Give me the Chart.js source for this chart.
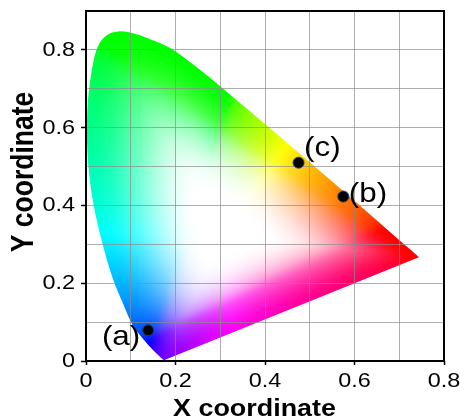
<!DOCTYPE html>
<html><head><meta charset="utf-8">
<script src="https://cdn.jsdelivr.net/npm/chart.js@4/dist/chart.umd.min.js"></script>
<style>html,body{margin:0;padding:0;background:#fff}canvas{display:block}</style>
</head><body>
<canvas id="c" width="460" height="419"></canvas>
<script>
// Spectral locus outline, from violet end round to red end
const locusX = [0.174,0.166,0.155,0.140,0.124,0.111,0.100,0.082,0.063,0.049,0.037,0.026,0.017,0.010,0.005,0.002,0.002,0.004,0.008,0.013,0.019,0.027,0.038,0.052,0.065,0.078,0.095,0.120,0.150,0.180,0.200,0.250,0.300,0.350,0.410,0.500,0.600,0.700,0.735,0.744];
const locusY = [0.002,0.010,0.022,0.040,0.062,0.080,0.100,0.150,0.200,0.250,0.300,0.350,0.400,0.450,0.500,0.560,0.620,0.670,0.710,0.750,0.785,0.812,0.831,0.842,0.847,0.848,0.846,0.838,0.825,0.810,0.797,0.754,0.706,0.658,0.600,0.511,0.412,0.311,0.276,0.267];
// Marked samples
const pointLabels = ['(a)','(b)','(c)'];
const pointX = [0.139,0.575,0.475];
const pointY = [0.079,0.423,0.510];
// Axes
const xTickValues = [0,0.2,0.4,0.6,0.8];
const xTickLabels = ['0','0.2','0.4','0.6','0.8'];
const yTickValues = [0,0.2,0.4,0.6,0.8];
const yTickLabels = ['0','0.2','0.4','0.6','0.8'];
const xTitle = 'X coordinate';
const yTitle = 'Y coordinate';

const FONT = "'Liberation Sans', Arial, Helvetica, sans-serif";
const WHITE = [0.3127, 0.329];

function gam(v){ return v <= 0.0031308 ? 12.92*v : 1.055*Math.pow(v,1/2.4)-0.055; }
function xyToRGB(x,y){
  const X = x/y, Y = 1, Z = (1-x-y)/y;
  let r = 3.2406*X - 1.5372*Y - 0.4986*Z;
  let g = -0.9689*X + 1.8758*Y + 0.0415*Z;
  let b = 0.0557*X - 0.2040*Y + 1.0570*Z;
  r = Math.max(0,r); g = Math.max(0,g); b = Math.max(0,b);
  const m = Math.max(r,g,b) || 1;
  return [gam(r/m), gam(g/m), gam(b/m)];
}

const gamutPlugin = {
  id: 'gamut',
  beforeDraw(chart){
    const meta = chart.getDatasetMeta(0);
    const pts = meta.data.map(p => ({x: p.x, y: p.y}));
    const ca = chart.chartArea;
    const xs = chart.scales.x, ys = chart.scales.y;
    if (!chart.$gamut) {
      const w = Math.ceil(ca.right - ca.left), h = Math.ceil(ca.bottom - ca.top);
      const off = document.createElement('canvas'); off.width = w; off.height = h;
      const octx = off.getContext('2d'); const img = octx.createImageData(w, h);
      const poly = locusX.map((x,i) => [x, locusY[i]]);
      const n = poly.length, N = 1440, R = new Float32Array(N);
      for (let k = 0; k < N; k++) {
        const a = -Math.PI + (k+0.5)*2*Math.PI/N, dx = Math.cos(a), dy = Math.sin(a);
        let best = Infinity;
        for (let i = 0; i < n; i++) {
          const A = poly[i], B = poly[(i+1)%n];
          const ex = B[0]-A[0], ey = B[1]-A[1];
          const den = dx*ey - dy*ex; if (Math.abs(den) < 1e-12) continue;
          const wx = A[0]-WHITE[0], wy = A[1]-WHITE[1];
          const t = (wx*ey - wy*ex)/den, u = (wx*dy - wy*dx)/den;
          if (t > 0 && u >= 0 && u <= 1 && t < best) best = t;
        }
        R[k] = best;
      }
      for (let j = 0; j < h; j++) {
        let yv = ys.getValueForPixel(ca.top + j + 0.5); if (yv < 0.002) yv = 0.002;
        for (let i = 0; i < w; i++) {
          const xv = xs.getValueForPixel(ca.left + i + 0.5);
          const dx = xv - WHITE[0], dy = yv - WHITE[1];
          const d = Math.hypot(dx, dy);
          let k = Math.floor((Math.atan2(dy,dx)+Math.PI)/(2*Math.PI)*N); if (k >= N) k = N-1; if (k < 0) k = 0;
          const s = Math.min(1, d / R[k]);
          const t = Math.min(1, Math.max(0, (s-0.2)/0.8)); const f = t*t*(3-2*t);
          const c = xyToRGB(Math.max(0,xv), yv);
          const idx = (j*w + i)*4;
          img.data[idx]   = 255*(1-f+f*c[0]);
          img.data[idx+1] = 255*(1-f+f*c[1]);
          img.data[idx+2] = 255*(1-f+f*c[2]);
          img.data[idx+3] = 255;
        }
      }
      octx.putImageData(img, 0, 0);
      const pad = 12;
      const blurred = document.createElement('canvas'); blurred.width = w + 2*pad; blurred.height = h + 2*pad;
      const bctx = blurred.getContext('2d');
      // extend edges so the blur does not pull in transparency
      bctx.drawImage(off, 0, 0, w, 1, pad, 0, w, pad);
      bctx.drawImage(off, 0, h-1, w, 1, pad, h+pad, w, pad);
      bctx.drawImage(off, 0, 0, 1, h, 0, pad, pad, h);
      bctx.drawImage(off, w-1, 0, 1, h, w+pad, pad, pad, h);
      bctx.drawImage(off, pad, pad);
      const fin = document.createElement('canvas'); fin.width = w; fin.height = h;
      const fctx = fin.getContext('2d');
      fctx.filter = 'blur(3px)';
      fctx.drawImage(blurred, -pad, -pad);
      chart.$gamut = fin;
    }
    const ctx = chart.ctx;
    ctx.save();
    ctx.beginPath();
    const m = (p,q) => ({x:(p.x+q.x)/2, y:(p.y+q.y)/2});
    const L = pts.length;
    ctx.moveTo(pts[0].x, pts[0].y);
    let m0 = m(pts[0], pts[1]); ctx.lineTo(m0.x, m0.y);
    for (let i = 1; i <= L-2; i++) {
      const tgt = (i === L-2) ? pts[L-1] : m(pts[i], pts[i+1]);
      ctx.quadraticCurveTo(pts[i].x, pts[i].y, tgt.x, tgt.y);
    }
    ctx.closePath();
    ctx.clip();
    ctx.drawImage(chart.$gamut, ca.left, ca.top);
    ctx.restore();
  }
};

function sText(ctx, text, x, y, font, align, sx, sy, rot){
  ctx.save(); ctx.translate(x, y); if (rot) ctx.rotate(rot); ctx.scale(sx, sy);
  ctx.font = font; ctx.textAlign = align; ctx.textBaseline = 'alphabetic'; ctx.fillStyle = '#000';
  ctx.fillText(text, 0, 0); ctx.restore();
}

const labelOffsets = [{dx:-8, dy:15, align:'right'}, {dx:5.5, dy:5, align:'left'}, {dx:5.5, dy:-6.5, align:'left'}];

const textPlugin = {
  id: 'texts',
  afterDatasetsDraw(chart){
    const ctx = chart.ctx, meta = chart.getDatasetMeta(1);
    meta.data.forEach((p, i) => {
      const o = labelOffsets[i];
      sText(ctx, pointLabels[i], p.x + o.dx, p.y + o.dy, '28px ' + FONT, o.align, 1.12, 1);
    });
  },
  afterDraw(chart){
    const ctx = chart.ctx, ca = chart.chartArea, xs = chart.scales.x, ys = chart.scales.y;
    ctx.save(); ctx.strokeStyle = '#000'; ctx.lineWidth = 2;
    ctx.strokeRect(ca.left, ca.top, ca.right - ca.left, ca.bottom - ca.top); ctx.restore();
    yTickValues.forEach((v, i) => sText(ctx, yTickLabels[i], ca.left - 11, ys.getPixelForValue(v) + 6, '20px ' + FONT, 'right', 1.17, 1));
    xTickValues.forEach((v, i) => sText(ctx, xTickLabels[i], xs.getPixelForValue(v), ca.bottom + 25.5, '20px ' + FONT, 'center', 1.17, 1));
    sText(ctx, xTitle, (ca.left + ca.right)/2 - 10.5, ca.bottom + 55, 'bold 23px ' + FONT, 'center', 1.17, 1);
    sText(ctx, yTitle, 33, (ca.top + ca.bottom)/2 - 14, 'bold 26.5px ' + FONT, 'center', 1, 1.15, -Math.PI/2);
  }
};

const isMajor = (vals, v) => vals.some(t => Math.abs(t - v) < 1e-6);

new Chart(document.getElementById('c'), {
  type: 'scatter',
  data: {
    datasets: [
      { data: locusX.map((x,i) => ({x, y: locusY[i]})), showLine: false, pointRadius: 0, borderWidth: 0 },
      { data: pointX.map((x,i) => ({x, y: pointY[i]})), pointRadius: 5.5, pointHoverRadius: 5.5,
        backgroundColor: '#000', borderColor: '#1d3f70', borderWidth: 1 }
    ]
  },
  options: {
    responsive: false, devicePixelRatio: 1, animation: false,
    layout: { padding: { left: 0, top: 11, right: 16, bottom: 0 } },
    plugins: { legend: { display: false }, tooltip: { enabled: false } },
    scales: {
      x: {
        type: 'linear', min: 0, max: 0.8,
        ticks: { stepSize: 0.1, display: false },
        grid: { color: 'rgba(140,140,140,0.7)', lineWidth: 1, drawTicks: true, tickLength: 4, tickWidth: 1.5,
                tickColor: c => (c.tick && isMajor(xTickValues, c.tick.value)) ? '#000' : 'rgba(0,0,0,0)' },
        border: { display: false },
        afterFit: s => { s.height = 58; }
      },
      y: {
        type: 'linear', min: 0, max: 0.9,
        ticks: { stepSize: 0.1, display: false },
        grid: { color: 'rgba(140,140,140,0.7)', lineWidth: 1, drawTicks: true, tickLength: 5, tickWidth: 1.5,
                tickColor: c => (c.tick && isMajor(yTickValues, c.tick.value)) ? '#000' : 'rgba(0,0,0,0)' },
        border: { display: false },
        afterFit: s => { s.width = 86; }
      }
    }
  },
  plugins: [gamutPlugin, textPlugin]
});
</script>
</body></html>
